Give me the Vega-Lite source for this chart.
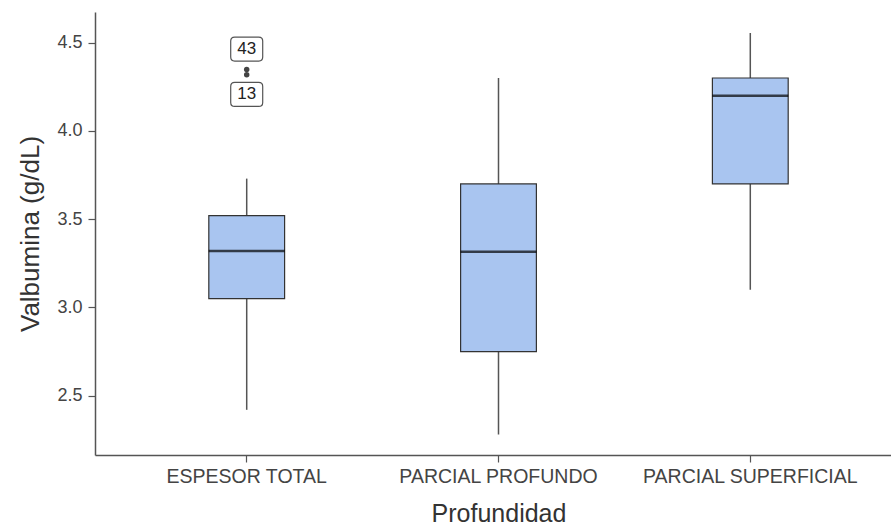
{
  "$schema": "https://vega.github.io/schema/vega-lite/v6.json",
  "width": 807,
  "height": 443,
  "autosize": {"type": "none"},
  "padding": {"left": 95, "top": 12, "right": 0, "bottom": 76},
  "background": "white",
  "config": {
    "view": {"stroke": null},
    "font": "Liberation Sans",
    "axis": {
      "grid": false,
      "domainColor": "#555555",
      "domainWidth": 1.5,
      "tickColor": "#555555",
      "tickWidth": 1.2,
      "tickSize": 7,
      "labelFont": "Liberation Sans",
      "titleFont": "Liberation Sans",
      "labelColor": "#444444",
      "titleColor": "#333333",
      "titleFontWeight": "normal"
    }
  },
  "datasets": {
    "boxes": [
      {"Profundidad": "ESPESOR TOTAL", "lower": 2.42, "q1": 3.05, "median": 3.32, "q3": 3.52, "upper": 3.73},
      {"Profundidad": "PARCIAL PROFUNDO", "lower": 2.28, "q1": 2.75, "median": 3.315, "q3": 3.70, "upper": 4.30},
      {"Profundidad": "PARCIAL SUPERFICIAL", "lower": 3.10, "q1": 3.70, "median": 4.20, "q3": 4.30, "upper": 4.555}
    ],
    "outliers": [
      {"Profundidad": "ESPESOR TOTAL", "value": 4.348, "id": "43", "labelPos": 4.464},
      {"Profundidad": "ESPESOR TOTAL", "value": 4.319, "id": "13", "labelPos": 4.207}
    ]
  },
  "encoding": {
    "x": {
      "field": "Profundidad",
      "type": "nominal",
      "sort": ["ESPESOR TOTAL", "PARCIAL PROFUNDO", "PARCIAL SUPERFICIAL"],
      "scale": {"type": "band", "paddingInner": 0.699, "paddingOuter": 0.452},
      "axis": {"labelAngle": 0, "labelFontSize": 19.5, "labelLimit": 0, "labelPadding": 5, "titleFontSize": 25, "titlePadding": 16, "title": "Profundidad"}
    }
  },
  "layer": [
    {
      "data": {"name": "boxes"},
      "mark": {"type": "rule", "color": "#555555", "strokeWidth": 1.5},
      "encoding": {
        "y": {
          "field": "lower", "type": "quantitative",
          "scale": {"domain": [2.164, 4.674], "nice": false, "zero": false},
          "axis": {"values": [2.5, 3.0, 3.5, 4.0, 4.5], "format": ".1f", "labelFontSize": 18, "labelPadding": 6, "title": "Valbumina (g/dL)", "titleFontSize": 26, "titlePadding": 13}
        },
        "y2": {"field": "upper"}
      }
    },
    {
      "data": {"name": "boxes"},
      "mark": {"type": "bar", "fill": "#a9c5f0", "stroke": "#333333", "strokeWidth": 1.2},
      "encoding": {
        "y": {"field": "q1", "type": "quantitative"},
        "y2": {"field": "q3"}
      }
    },
    {
      "data": {"name": "boxes"},
      "mark": {"type": "tick", "color": "#000000", "size": 76, "thickness": 2.5},
      "encoding": {
        "y": {"field": "median", "type": "quantitative"}
      }
    },
    {
      "data": {"name": "outliers"},
      "mark": {"type": "point", "filled": true, "color": "#444444", "size": 30, "opacity": 1},
      "encoding": {
        "y": {"field": "value", "type": "quantitative"}
      }
    },
    {
      "data": {"name": "outliers"},
      "mark": {
        "type": "point",
        "shape": "M-0.75,-0.75 L0.75,-0.75 Q1,-0.75 1,-0.5 L1,0.5 Q1,0.75 0.75,0.75 L-0.75,0.75 Q-1,0.75 -1,0.5 L-1,-0.5 Q-1,-0.75 -0.75,-0.75 Z",
        "size": 1024,
        "filled": false,
        "fill": "white",
        "fillOpacity": 1,
        "stroke": "#555555",
        "strokeWidth": 1.2,
        "opacity": 1
      },
      "encoding": {
        "y": {"field": "labelPos", "type": "quantitative"}
      }
    },
    {
      "data": {"name": "outliers"},
      "mark": {"type": "text", "fontSize": 17, "color": "#222222", "baseline": "middle", "align": "center", "font": "Liberation Sans"},
      "encoding": {
        "y": {"field": "labelPos", "type": "quantitative"},
        "text": {"field": "id"}
      }
    }
  ]
}
